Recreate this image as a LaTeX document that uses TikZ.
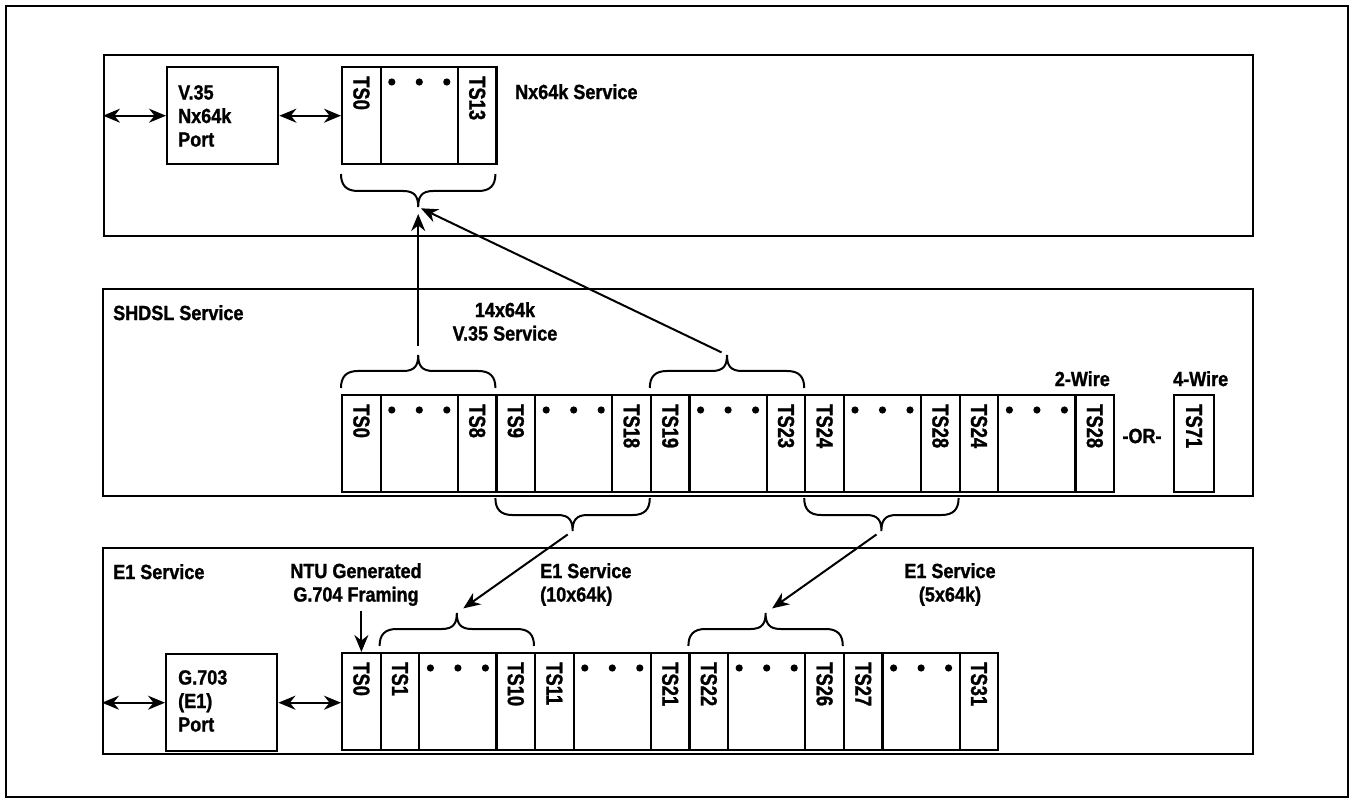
\documentclass[tikz,border=0pt]{standalone}
\usepackage{fontspec}
\setmainfont{Liberation Sans}[FakeStretch=0.88, FakeBold=1.2]
\newfontfamily\tsfont{Liberation Sans}[FakeStretch=0.8, FakeBold=1.2]
\usetikzlibrary{arrows.meta,positioning}

% rounded brace: name, x left, x right, y of the ends, direction (1 = tip down, (-1) = tip up)
\newcommand{\slotbrace}[5]{%
  \pgfmathsetmacro{\xMid}{(#2+#3)/2}
  \pgfmathsetmacro{\yKnee}{#4+#5*11}
  \pgfmathsetmacro{\yBar}{#4+#5*17}
  \pgfmathsetmacro{\yNeck}{#4+#5*23}
  \pgfmathsetmacro{\yTip}{#4+#5*33}
  \draw[brace line] (#2,#4) .. controls (#2,\yKnee) and (#2+5,\yBar) .. (#2+17,\yBar)
    -- (\xMid-15,\yBar) .. controls (\xMid-3,\yBar) and (\xMid,\yNeck) .. (\xMid,\yTip)
    .. controls (\xMid,\yNeck) and (\xMid+3,\yBar) .. (\xMid+15,\yBar)
    -- (#3-17,\yBar) .. controls (#3-5,\yBar) and (#3,\yKnee) .. (#3,#4);
  \coordinate (#1) at (\xMid,\yTip);
}

\begin{document}
\begin{tikzpicture}[x=1pt, y=-1pt,
    section box/.style={draw, line width=2.4pt, anchor=north west, inner sep=0pt},
    port box/.style={draw, line width=2.4pt, anchor=north west, minimum width=111pt, minimum height=97pt, inner sep=0pt},
    narrow cell/.style={draw, line width=2.2pt, anchor=north west, minimum width=38.6pt, minimum height=97pt, inner sep=0pt},
    wide cell/.style={narrow cell, minimum width=77.2pt},
    slot label/.style={font=\tsfont\bfseries\fontsize{23}{23}\selectfont, rotate=-90, anchor=west, inner sep=0pt},
    title text/.style={font=\bfseries\fontsize{20.5}{23.5}\selectfont, inner sep=0pt},
    brace line/.style={line width=2pt},
    sig arrow/.style={-{Stealth[length=17pt, width=14pt]}, line width=2pt},
    both arrow/.style={{Stealth[length=17pt, width=14pt]}-{Stealth[length=17pt, width=14pt]}, line width=2pt}
]

%================CONFIGURATION================
\def\xStart{341}  % left edge of the slot rows
\def\slotw{38.6}  % narrow slot
\def\groupw{154.4} % narrow + wide + narrow
\def\yNx{66}
\def\yShd{394}
\def\yEone{652}
%=============================================

\useasboundingbox (0,0) rectangle (1350,802);
\draw[line width=2.5pt] (6,6) rectangle (1348,797);

% --- 1. Nx64k section ---
\node[section box, minimum width=1149pt, minimum height=181pt] (nxbox) at (103,54) {};
\node[port box] (nxport) at (166,\yNx) {};
\node[title text, align=left, anchor=north west] (nxporttxt) at (178,85) {V.35\\Nx64k\\Port};
\node[title text, anchor=north west] (nxtitle) at (515,84) {Nx64k Service};

\node[narrow cell] (nxa) at (\xStart,\yNx) {};
\node[wide cell]   (nxb) at (\xStart+\slotw,\yNx) {};
\node[narrow cell] (nxc) at (\xStart+3*\slotw,\yNx) {};
\node[slot label] at ([yshift=-10pt]nxa.north) {TS0};
\node[slot label] at ([yshift=-10pt]nxc.north) {TS13};
\foreach \d in {-1,0,1}
    \fill ([xshift=\d*27.5pt, yshift=-16pt]nxb.north) circle (3.6pt);

\draw[both arrow] (nxbox.west |- nxport.west) -- (nxport.west);
\draw[both arrow] (nxport.east) -- (nxport.east -| nxa.west);
\slotbrace{nxTip}{341}{495.4}{174}{1}

% --- 2. SHDSL section ---
\node[section box, minimum width=1150pt, minimum height=207pt] (shbox) at (102,288) {};
\node[title text, anchor=north west] (shtitle) at (113,305) {SHDSL Service};
\node[title text, align=center, anchor=north] (shv35) at (505,302) {14x64k\\V.35 Service};

\foreach \first/\last [count=\k from 0] in {TS0/TS8, TS9/TS18, TS19/TS23, TS24/TS28, TS24/TS28} {
    \pgfmathsetmacro{\gx}{\xStart+\k*\groupw}
    \node[narrow cell] (sh\k a) at (\gx,\yShd) {};
    \node[wide cell]   (sh\k b) at (\gx+\slotw,\yShd) {};
    \node[narrow cell] (sh\k c) at (\gx+3*\slotw,\yShd) {};
    \node[slot label] at ([yshift=-10pt]sh\k a.north) {\first};
    \node[slot label] at ([yshift=-10pt]sh\k c.north) {\last};
    \foreach \d in {-1,0,1}
        \fill ([xshift=\d*27.5pt, yshift=-16pt]sh\k b.north) circle (3.6pt);
}
\node[narrow cell, minimum width=40pt] (ts71) at (1173,\yShd) {};
\node[slot label] at ([yshift=-10pt]ts71.north) {TS71};
\node[title text, anchor=north east] (twowire) at (1110,371) {2-Wire};
\node[title text, anchor=north west] (fourwire) at (1173,371) {4-Wire};
\node[title text] (ortxt) at (1142,436) {-OR-};

\slotbrace{shUpA}{341}{495.4}{388}{(-1)}
\slotbrace{shUpB}{649.8}{804.2}{388}{(-1)}
\slotbrace{shDnA}{495.4}{649.8}{498}{1}
\slotbrace{shDnB}{804.2}{958.6}{498}{1}

% --- 3. E1 section ---
\node[section box, minimum width=1150pt, minimum height=206pt] (e1box) at (102,547) {};
\node[title text, anchor=north west] (e1title) at (113,564) {E1 Service};
\node[port box] (e1port) at (165,653) {};
\node[title text, align=left, anchor=north west] (e1porttxt) at (178,670) {G.703\\(E1)\\Port};
\node[title text, align=center, anchor=north] (ntu) at (356,563) {NTU Generated\\G.704 Framing};
\node[title text, align=left, anchor=north west] (e1ten) at (540,563) {E1 Service\\(10x64k)};
\node[title text, align=center, anchor=north] (e1five) at (950,563) {E1 Service\\(5x64k)};

\node[narrow cell] (e1ts0) at (\xStart,\yEone) {};
\node[slot label] at ([yshift=-10pt]e1ts0.north) {TS0};
\foreach \first/\last [count=\k from 0] in {TS1/TS10, TS11/TS21, TS22/TS26, TS27/TS31} {
    \pgfmathsetmacro{\gx}{\xStart+\slotw+\k*\groupw}
    \node[narrow cell] (eg\k a) at (\gx,\yEone) {};
    \node[wide cell]   (eg\k b) at (\gx+\slotw,\yEone) {};
    \node[narrow cell] (eg\k c) at (\gx+3*\slotw,\yEone) {};
    \node[slot label] at ([yshift=-10pt]eg\k a.north) {\first};
    \node[slot label] at ([yshift=-10pt]eg\k c.north) {\last};
    \foreach \d in {-1,0,1}
        \fill ([xshift=\d*27.5pt, yshift=-16pt]eg\k b.north) circle (3.6pt);
}

\draw[both arrow] (e1box.west |- e1port.west) -- (e1port.west);
\draw[both arrow] (e1port.east) -- (e1port.east -| e1ts0.west);
\draw[sig arrow] ([yshift=-5pt]ntu.south -| e1ts0.north) -- (e1ts0.north);
\slotbrace{eUpA}{379.6}{534}{646}{(-1)}
\slotbrace{eUpB}{688.4}{842.8}{646}{(-1)}

% --- 4. Connectors between the brackets ---
\draw[sig arrow, shorten <=9pt, shorten >=7pt] (shUpA) -- (nxTip);
\draw[sig arrow, shorten <=6pt, shorten >=3pt] (shUpB) -- (nxTip);
\draw[sig arrow, shorten <=6pt, shorten >=8pt] (shDnA) -- (eUpA);
\draw[sig arrow, shorten <=6pt, shorten >=8pt] (shDnB) -- (eUpB);

\end{tikzpicture}
\end{document}
